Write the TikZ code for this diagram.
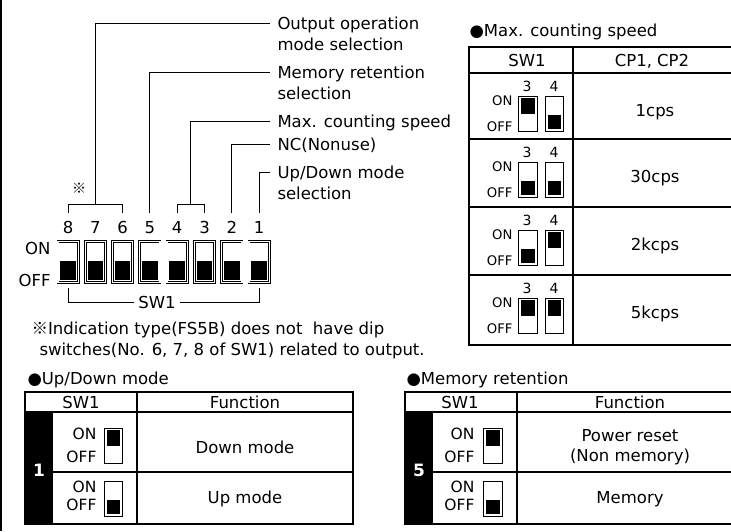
\documentclass[tikz,border=0pt]{standalone}
\usepackage{fontspec}
\setmainfont{DejaVu Sans}
\newfontfamily\cjkfont{Noto Sans CJK KR}
\usepackage{tikz}
\usetikzlibrary{positioning, calc}

\newcommand{\fsz}[1]{\fontsize{#1}{#1}\selectfont}
\newcommand{\refmark}{{\cjkfont ※}}
% black slider of a small switch: #1 node, #2 = 1 for ON
\newcommand{\swfill}[2]{%
  \ifnum#2=1
    \fill ([shift={(3.4pt,0.5pt)}]#1.west) rectangle ([shift={(-3.4pt,-2.2pt)}]#1.north east);
  \else
    \fill ([shift={(3.4pt,2.6pt)}]#1.south west) rectangle ([shift={(-3.4pt,-0.5pt)}]#1.east);
  \fi}

\tikzset{
  txt/.style={inner sep=0pt, text height=12pt, text depth=0pt, font=\fsz{16.5}},
  lbl/.style={txt, anchor=west, inner xsep=7pt},
  lbltwo/.style={lbl, below=8pt of #1, anchor=north west},
  small/.style={txt, font=\fsz{13.2}, text height=9.6pt},
  digit/.style={txt, font=\fsz{14}, text height=10.2pt},
  mid/.style={txt, font=\fsz{15.5}, text height=11.3pt},
  bigsw/.style={draw, double, double distance=1.3pt, line width=0.7pt,
    minimum width=20.3pt, minimum height=41.3pt, inner sep=0pt},
  smallsw/.style={draw, line width=1.1pt, minimum width=18.8pt, minimum height=35pt, inner sep=0pt},
  grid/.style={line width=1.2pt},
}

\begin{document}
\begin{tikzpicture}[x=1pt, y=-1pt, line width=1pt]
\useasboundingbox (0,0) rectangle (731,531);
\draw[line width=2pt] (1,0) -- (1,531);

% SW1 dip switch
\foreach \k in {1,...,8}{
  \node[txt] (n\k) at ({68+(8-\k)*27.3},227) {\k};
  \node[bigsw] (s\k) at ({68+(8-\k)*27.3},262) {};
  \fill ([shift={(2.75pt,2.6pt)}]s\k.south west) rectangle ([shift={(-2.75pt,1pt)}]s\k.east);
  \coordinate (k\k) at ({68+(8-\k)*27.3},213);
  \coordinate (j\k) at ({68+(8-\k)*27.3},288);
}
\node[txt, anchor=east] (on) at (51,248) {ON};
\node[txt, anchor=east] (off) at (51,280) {OFF};
\node[txt, inner xsep=4pt] (sw) at (157,302) {SW1};
\draw (sw.west) -| (j8);
\draw (sw.east) -| (j1);

% leaders
\node[lbl] (lout) at (270,23) {Output operation};
\node[lbltwo=lout.south west] (lout2) {mode selection};
\draw (k8) -- ++(0,-9) -| (k6);
\draw (lout.west) -| ([yshift=9pt]k7);
\node[lbl] (lmem) at (270,72) {Memory retention};
\node[lbltwo=lmem.south west] (lmem2) {selection};
\draw (lmem.west) -| (k5);
\node[lbl] (lmax) at (270,121) {Max. counting speed};
\draw (k4) -- ++(0,-9) -| (k3);
\draw (lmax.west) -| ($(k4)!.5!(k3)+(0,-9)$);
\node[lbl] (lnc) at (270,144) {NC(Nonuse)};
\draw (lnc.west) -| (k2);
\node[lbl] (lud) at (270,172) {Up/Down mode};
\node[lbltwo=lud.south west] (lud2) {selection};
\draw (lud.west) -| (k1);
\node[txt, font=\fsz{14}, text height=10.5pt] (mark) at (79,188) {\refmark};

\node[txt, anchor=west] (note1) at (31,328) {\refmark Indication type(FS5B) does not\ \ have dip};
\node[txt, anchor=west] (note2) at (39,349) {switches(No. 6, 7, 8 of SW1) related to output.};

% max. counting speed
\node[txt, anchor=west] (tmax) at (469,30) {●Max. counting speed};
\draw[grid] (731,47) -- (469,47) -- (469,345) -- (731,345);
\draw[grid] (573,47) -- (573,345);
\foreach \y in {73,139,207,275} \draw[grid] (469,\y) -- (731,\y);
\node[txt] (hsw) at (527,60) {SW1};
\node[txt] (hcp) at (652,60) {CP1, CP2};
\foreach \yt/\sa/\sb/\val [count=\i] in {73/1/0/1cps, 139/0/0/30cps, 207/0/1/2kcps, 275/1/1/5kcps}{
  \node[digit] (p\i) at (527,{\yt+13}) {3};
  \node[digit] (q\i) at (554,{\yt+13}) {4};
  \node[small, anchor=east] (on\i) at (513,{\yt+28}) {ON};
  \node[small, anchor=east] (off\i) at (513,{\yt+54}) {OFF};
  \node[smallsw] (a\i) at (528,{\yt+41}) {};
  \node[smallsw] (b\i) at (554.5,{\yt+41}) {};
  \swfill{a\i}{\sa}
  \swfill{b\i}{\sb}
  \node[txt] (v\i) at (655,{\yt+37}) {\val};
}

% up/down mode
\node[txt, anchor=west] (tud) at (27,378) {●Up/Down mode};
\draw[grid] (25,392) rectangle (353,524);
\draw[grid] (25,412) -- (353,412);
\draw[grid] (53,472) -- (353,472);
\draw[grid] (137,392) -- (137,524);
\fill (25,412) rectangle (53,524);
\node[txt] (usw) at (81,402) {SW1};
\node[txt] (ufn) at (245,402) {Function};
\node[txt, text=white, font=\fsz{17}\bfseries] (bit1) at (39,470) {1};
\node[mid, anchor=east] (uon1) at (97,434) {ON};
\node[mid, anchor=east] (uoff1) at (97,457) {OFF};
\node[smallsw] (u1) at (113.5,446) {};
\swfill{u1}{1}
\node[txt] (down) at (245,447) {Down mode};
\node[mid, anchor=east] (uon2) at (97,487) {ON};
\node[mid, anchor=east] (uoff2) at (97,505) {OFF};
\node[smallsw] (u2) at (113.5,499) {};
\swfill{u2}{0}
\node[txt] (up) at (245,497) {Up mode};

% memory retention
\node[txt, anchor=west] (tmem) at (406,378) {●Memory retention};
\draw[grid] (731,392) -- (405,392) -- (405,524) -- (731,524);
\draw[grid] (405,412) -- (731,412);
\draw[grid] (433,472) -- (731,472);
\draw[grid] (517,392) -- (517,524);
\fill (405,412) rectangle (433,524);
\node[txt] (msw) at (460,402) {SW1};
\node[txt] (mfn) at (630,402) {Function};
\node[txt, text=white, font=\fsz{17}\bfseries] (bit5) at (419,470) {5};
\node[mid, anchor=east] (mon1) at (475,434) {ON};
\node[mid, anchor=east] (moff1) at (475,457) {OFF};
\node[smallsw] (m1) at (493,446) {};
\swfill{m1}{1}
\node[txt] (preset) at (630,435) {Power reset};
\node[txt] (nonmem) at (630,455) {(Non memory)};
\node[mid, anchor=east] (mon2) at (475,487) {ON};
\node[mid, anchor=east] (moff2) at (475,505) {OFF};
\node[smallsw] (m2) at (493,499) {};
\swfill{m2}{0}
\node[txt] (memory) at (630,497) {Memory};
\end{tikzpicture}
\end{document}
